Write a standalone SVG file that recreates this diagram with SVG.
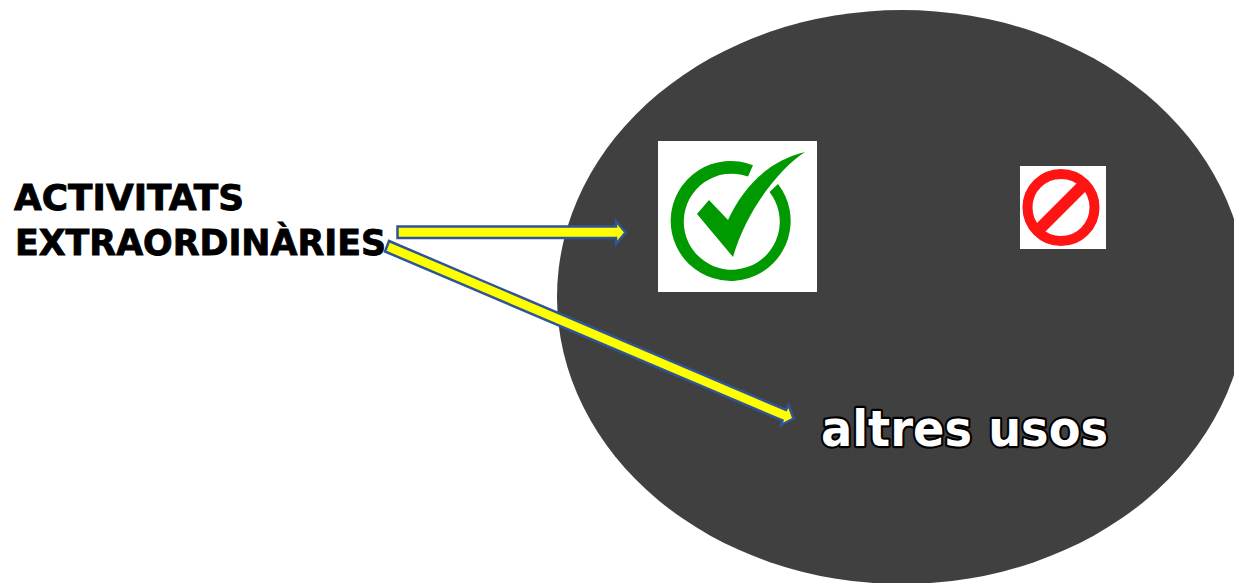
<svg xmlns="http://www.w3.org/2000/svg" width="1234" height="583" viewBox="0 0 1234 583">
<style>
.lbl{font-family:"DejaVu Sans","Liberation Sans",sans-serif;font-weight:700;font-size:36px;fill:#000;stroke:#000;stroke-width:.9}
.arr{fill:#ffff00;stroke:#2f5597;stroke-width:2.5;stroke-linejoin:miter}
.us{font-family:"DejaVu Sans","Liberation Sans",sans-serif;font-weight:700;font-size:49px;fill:#fff;stroke:#000;stroke-width:4.5;paint-order:stroke;stroke-linejoin:round}
</style>
<rect width="1234" height="583" fill="#fff"/>
<g id="area"><ellipse cx="902" cy="297" rx="345" ry="287" fill="#404040"/></g>
<g id="activitats"><text class="lbl" x="14" y="210" textLength="230" lengthAdjust="spacingAndGlyphs">ACTIVITATS</text><text class="lbl" x="15" y="255" textLength="371" lengthAdjust="spacingAndGlyphs">EXTRAORDINÀRIES</text></g>
<g id="allowed">
<rect x="658" y="141" width="159" height="151" fill="#fff"/>
<path d="M753 165.200A60 60 0 1 0 778 184L769.500 192A48 48 0 1 1 748 176.500Z" fill="#009900"/>
<path d="M697 214L709 200L728 220C742 190 765 162 805 152C775 172 745 215 733 257Z" fill="#009900"/>
</g>
<g id="denied">
<rect x="1020" y="166" width="86" height="83" fill="#fff"/>
<circle cx="1061" cy="207.500" r="33.500" fill="none" stroke="#ff1414" stroke-width="10"/>
<path d="M1040 228.500L1082 186.500" fill="none" stroke="#ff1414" stroke-width="12"/>
</g>
<g id="altres"><text class="us" x="821" y="446" textLength="287" lengthAdjust="spacingAndGlyphs">altres usos</text></g>
<g id="connectors">
<path class="arr" d="M397.500 226.500H616V221L625.500 232.500L616 244V238H397.500Z"/>
<path class="arr" d="M389 241L786 410L788.500 405L793.500 418.500L781 425L782.500 420.500L385 251.500Z"/>
</g>
</svg>
